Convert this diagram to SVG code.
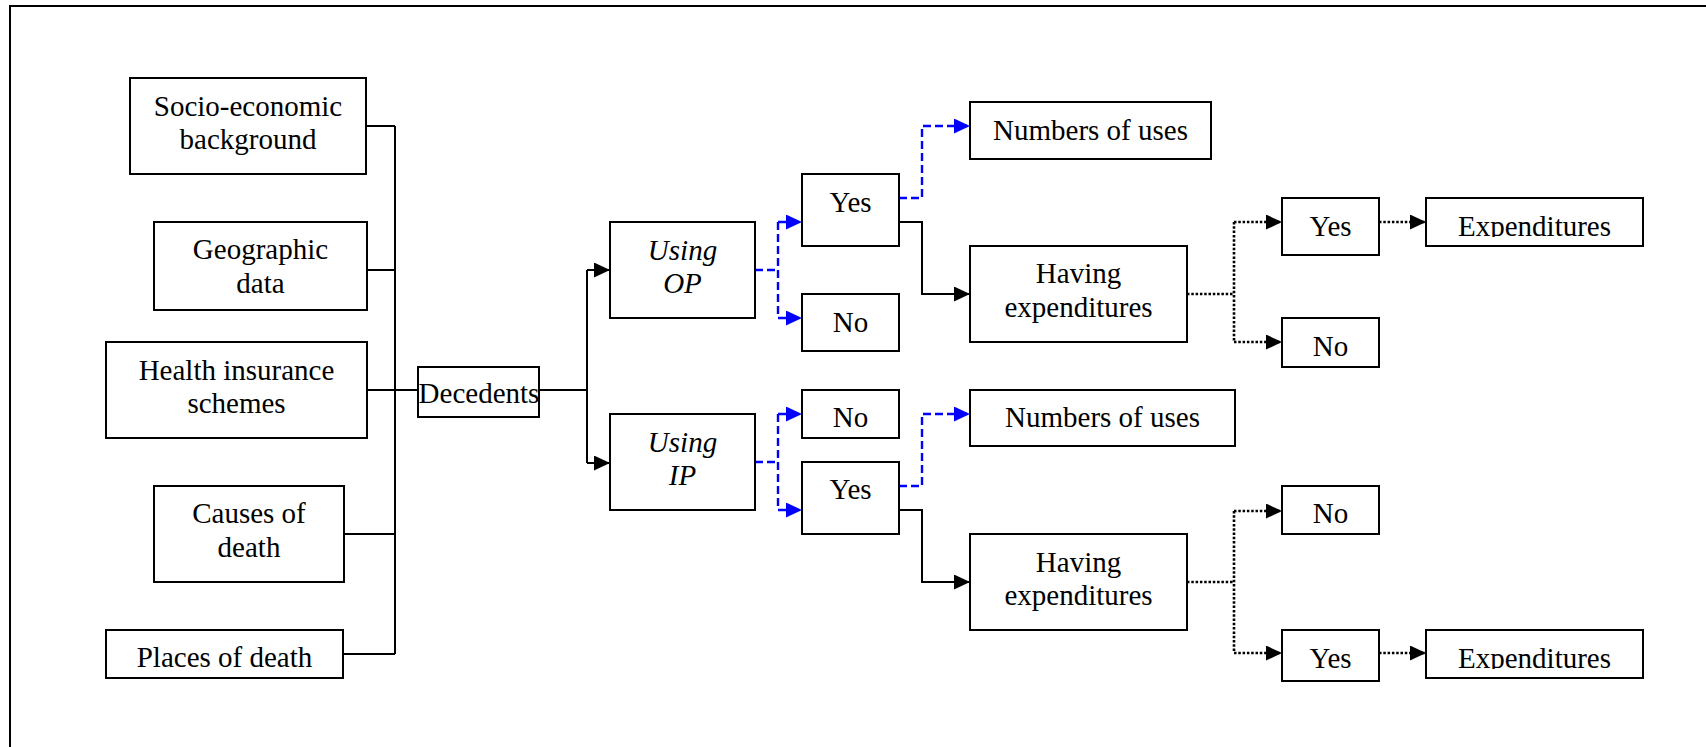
<svg xmlns="http://www.w3.org/2000/svg" width="1706" height="747" viewBox="0 0 1706 747">
  <style>
    .box { fill: #ffffff; stroke: #000000; stroke-width: 2; }
    .lbl { font-family: "Liberation Serif", "Times New Roman", serif; font-size: 29px; fill: #000000; text-anchor: middle; }
    .it { font-style: italic; }
    .solid { fill: none; stroke: #000000; stroke-width: 2; }
    .dash { fill: none; stroke: #0000ff; stroke-width: 2.4; stroke-dasharray: 8 4; }
    .dot { fill: none; stroke: #000000; stroke-width: 2.6; stroke-dasharray: 2.5 1.8; }
    .frame { fill: none; stroke: #000000; stroke-width: 2; }
  </style>
  <defs>
    <marker id="arrowBlack" markerUnits="userSpaceOnUse" markerWidth="16" markerHeight="15" refX="16" refY="7.5" orient="auto">
      <path d="M0,0 L16,7.5 L0,15 Z" fill="#000000"/>
    </marker>
    <marker id="arrowBlue" markerUnits="userSpaceOnUse" markerWidth="16" markerHeight="15" refX="16" refY="7.5" orient="auto">
      <path d="M0,0 L16,7.5 L0,15 Z" fill="#0000ff"/>
    </marker>
    <!-- text areas of the small right-hand boxes cut their labels at the baseline -->
    <clipPath id="clipYesA"><rect x="1282" y="198" width="97" height="39"/></clipPath>
    <clipPath id="clipExpA"><rect x="1426" y="198" width="217" height="39"/></clipPath>
    <clipPath id="clipNoA"><rect x="1282" y="318" width="97" height="39"/></clipPath>
    <clipPath id="clipNoB"><rect x="1282" y="486" width="97" height="38"/></clipPath>
    <clipPath id="clipYesB"><rect x="1282" y="630" width="97" height="39"/></clipPath>
    <clipPath id="clipExpB"><rect x="1426" y="630" width="217" height="39"/></clipPath>
  </defs>

  <rect class="frame" x="10" y="6" width="1720" height="760"/>

  <g id="connectors">
    <!-- inputs feeding the decedent data -->
    <path class="solid" d="M366,126 H395 M367,270 H395 M367,390 H418 M344,534 H395 M343,654 H395 M395,126 V654"/>
    <path class="solid" d="M539,390 H587 M587,270 V463"/>
    <path class="solid" marker-end="url(#arrowBlack)" d="M587,270 H610"/>
    <path class="solid" marker-end="url(#arrowBlack)" d="M587,463 H610"/>

    <!-- outpatient branch -->
    <path class="dash" d="M755,270 H778 M778,222 V318"/>
    <path class="dash" marker-end="url(#arrowBlue)" d="M778,222 H802"/>
    <path class="dash" marker-end="url(#arrowBlue)" d="M778,318 H802"/>
    <path class="dash" marker-end="url(#arrowBlue)" d="M899,198 H922 V126 H970"/>
    <path class="solid" marker-end="url(#arrowBlack)" d="M899,222 H922 V294 H970"/>

    <!-- inpatient branch -->
    <path class="dash" d="M755,462 H778 M778,414 V510"/>
    <path class="dash" marker-end="url(#arrowBlue)" d="M778,414 H802"/>
    <path class="dash" marker-end="url(#arrowBlue)" d="M778,510 H802"/>
    <path class="dash" marker-end="url(#arrowBlue)" d="M899,486 H922 V414 H970"/>
    <path class="solid" marker-end="url(#arrowBlack)" d="M899,510 H922 V582 H970"/>

    <!-- expenditure outcomes -->
    <path class="dot" d="M1187,294 H1234 M1234,222 V342"/>
    <path class="dot" marker-end="url(#arrowBlack)" d="M1234,222 H1282"/>
    <path class="dot" marker-end="url(#arrowBlack)" d="M1234,342 H1282"/>
    <path class="dot" marker-end="url(#arrowBlack)" d="M1379,222 H1426"/>
    <path class="dot" d="M1187,582 H1234 M1234,511 V653"/>
    <path class="dot" marker-end="url(#arrowBlack)" d="M1234,511 H1282"/>
    <path class="dot" marker-end="url(#arrowBlack)" d="M1234,653 H1282"/>
    <path class="dot" marker-end="url(#arrowBlack)" d="M1379,653 H1426"/>
  </g>

  <g id="socio">
    <rect class="box" x="130" y="78" width="236" height="96"/>
    <text class="lbl" x="248" y="116">Socio-economic</text>
    <text class="lbl" x="248" y="149">background</text>
  </g>
  <g id="geographic">
    <rect class="box" x="154" y="222" width="213" height="88"/>
    <text class="lbl" x="260.5" y="259">Geographic</text>
    <text class="lbl" x="260.5" y="293">data</text>
  </g>
  <g id="insurance">
    <rect class="box" x="106" y="342" width="261" height="96"/>
    <text class="lbl" x="236.5" y="380">Health insurance</text>
    <text class="lbl" x="236.5" y="413">schemes</text>
  </g>
  <g id="causes">
    <rect class="box" x="154" y="486" width="190" height="96"/>
    <text class="lbl" x="249" y="523">Causes of</text>
    <text class="lbl" x="249" y="557">death</text>
  </g>
  <g id="places">
    <rect class="box" x="106" y="630" width="237" height="48"/>
    <text class="lbl" x="224.5" y="667">Places of death</text>
  </g>
  <g id="decedents">
    <rect class="box" x="418" y="367" width="121" height="50"/>
    <text class="lbl" x="479" y="403">Decedents</text>
  </g>

  <g id="using-op">
    <rect class="box" x="610" y="222" width="145" height="96"/>
    <text class="lbl it" x="682.5" y="260">Using</text>
    <text class="lbl it" x="682.5" y="293">OP</text>
  </g>
  <g id="op-yes">
    <rect class="box" x="802" y="174" width="97" height="72"/>
    <text class="lbl" x="850.5" y="212">Yes</text>
  </g>
  <g id="op-no">
    <rect class="box" x="802" y="294" width="97" height="57"/>
    <text class="lbl" x="850.5" y="332">No</text>
  </g>
  <g id="op-uses">
    <rect class="box" x="970" y="102" width="241" height="57"/>
    <text class="lbl" x="1090.5" y="140">Numbers of uses</text>
  </g>
  <g id="op-having">
    <rect class="box" x="970" y="246" width="217" height="96"/>
    <text class="lbl" x="1078.5" y="283">Having</text>
    <text class="lbl" x="1078.5" y="317">expenditures</text>
  </g>
  <g id="op-exp-yes">
    <rect class="box" x="1282" y="198" width="97" height="57"/>
    <text class="lbl" x="1330.5" y="236" clip-path="url(#clipYesA)">Yes</text>
  </g>
  <g id="op-exp-no">
    <rect class="box" x="1282" y="318" width="97" height="49"/>
    <text class="lbl" x="1330.5" y="356" clip-path="url(#clipNoA)">No</text>
  </g>
  <g id="op-expenditures">
    <rect class="box" x="1426" y="198" width="217" height="48"/>
    <text class="lbl" x="1534.5" y="236" clip-path="url(#clipExpA)">Expenditures</text>
  </g>

  <g id="using-ip">
    <rect class="box" x="610" y="414" width="145" height="96"/>
    <text class="lbl it" x="682.5" y="452">Using</text>
    <text class="lbl it" x="682.5" y="485">IP</text>
  </g>
  <g id="ip-no">
    <rect class="box" x="802" y="390" width="97" height="48"/>
    <text class="lbl" x="850.5" y="427">No</text>
  </g>
  <g id="ip-yes">
    <rect class="box" x="802" y="462" width="97" height="72"/>
    <text class="lbl" x="850.5" y="499">Yes</text>
  </g>
  <g id="ip-uses">
    <rect class="box" x="970" y="390" width="265" height="56"/>
    <text class="lbl" x="1102.5" y="427">Numbers of uses</text>
  </g>
  <g id="ip-having">
    <rect class="box" x="970" y="534" width="217" height="96"/>
    <text class="lbl" x="1078.5" y="572">Having</text>
    <text class="lbl" x="1078.5" y="605">expenditures</text>
  </g>
  <g id="ip-exp-no">
    <rect class="box" x="1282" y="486" width="97" height="48"/>
    <text class="lbl" x="1330.5" y="523" clip-path="url(#clipNoB)">No</text>
  </g>
  <g id="ip-exp-yes">
    <rect class="box" x="1282" y="630" width="97" height="51"/>
    <text class="lbl" x="1330.5" y="668" clip-path="url(#clipYesB)">Yes</text>
  </g>
  <g id="ip-expenditures">
    <rect class="box" x="1426" y="630" width="217" height="48"/>
    <text class="lbl" x="1534.5" y="668" clip-path="url(#clipExpB)">Expenditures</text>
  </g>
</svg>
